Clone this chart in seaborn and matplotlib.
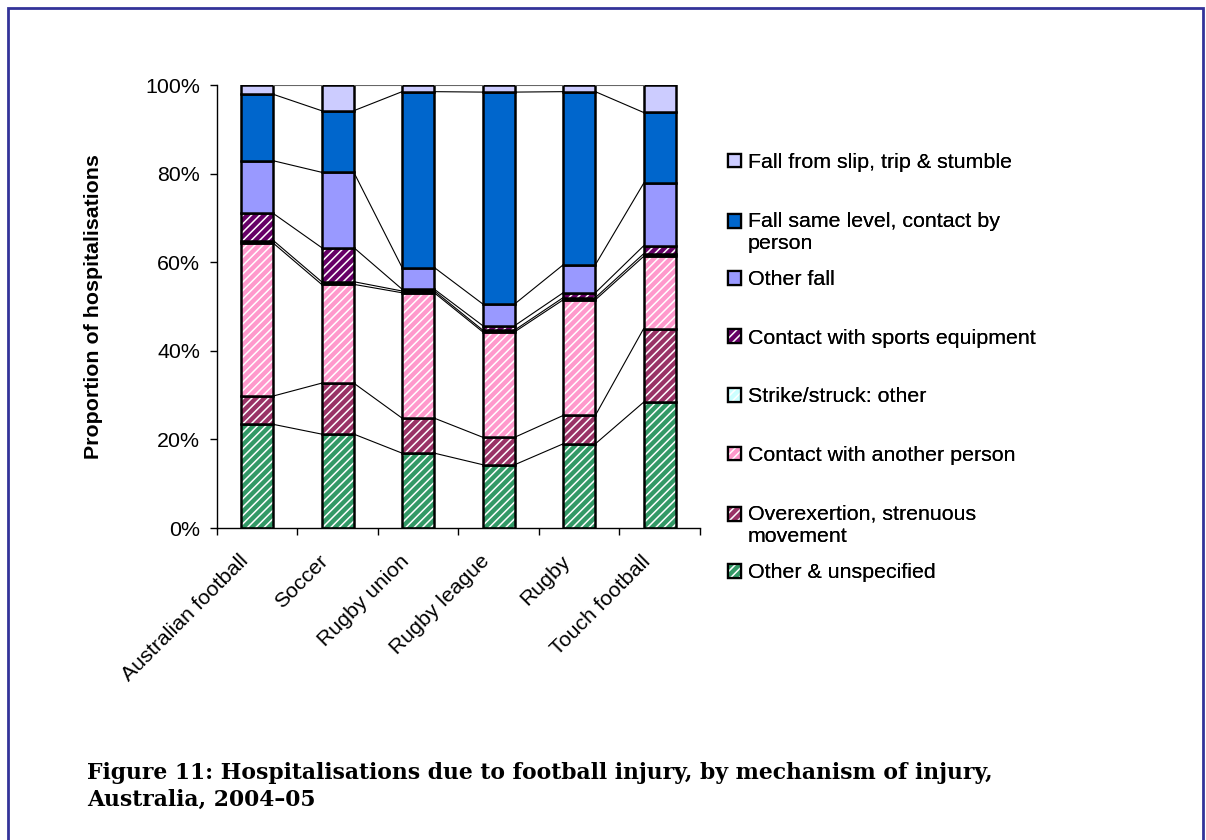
import numpy as np
import matplotlib
matplotlib.use('Agg')
import matplotlib.pyplot as plt
import matplotlib.patches as mpatches
from matplotlib.legend_handler import HandlerTuple, HandlerPatch
from matplotlib.ticker import FuncFormatter
from matplotlib.transforms import ScaledTranslation
import seaborn as sns

sns.set_style('white')
plt.rcParams['font.family'] = ['Liberation Sans', 'DejaVu Sans']
plt.rcParams['hatch.linewidth'] = 1.1
for k in ['text.color', 'axes.labelcolor', 'xtick.color', 'ytick.color']:
    plt.rcParams[k] = 'black'

sports = ['Australian football', 'Soccer', 'Rugby union', 'Rugby league', 'Rugby', 'Touch football']

# proportions (%), bottom of the stack first
other_unspec = [23.4, 21.2, 16.9, 14.3, 19.0, 28.4]
overexertion = [6.4, 11.5, 7.9, 6.2, 6.4, 16.6]
contact_person = [34.5, 22.3, 28.3, 23.8, 26.1, 16.3]
strike_other = [0.6, 0.6, 0.4, 0.4, 0.5, 0.6]
sports_equip = [6.1, 7.7, 0.4, 1.0, 1.1, 1.8]
other_fall = [11.9, 17.0, 4.9, 4.9, 6.3, 14.1]
fall_same_level = [15.0, 13.9, 39.7, 47.8, 39.1, 16.0]
fall_slip = [2.1, 5.8, 1.5, 1.6, 1.5, 6.2]

series_names = ['Other & unspecified', 'Overexertion, strenuous\nmovement', 'Contact with another person',
                'Strike/struck: other', 'Contact with sports equipment', 'Other fall',
                'Fall same level, contact by\nperson', 'Fall from slip, trip & stumble']
series_vals = [other_unspec, overexertion, contact_person, strike_other, sports_equip, other_fall,
               fall_same_level, fall_slip]
series_cols = ['#339966', '#993366', '#FF99CC', '#CCFFFF', '#660066', '#9999FF', '#0066CC', '#CCCCFF']
series_hatch = ['////', '////', '////', '////', '////', None, None, None]

FS = 15.4

fig = plt.figure(figsize=(12.06, 8.4), dpi=100)
ax = fig.add_axes([0.1799, 0.3714, 0.4005, 0.5274])

bottom = np.zeros(len(sports))
levels = []
for vals, col, hat in zip(series_vals, series_cols, series_hatch):
    vals = np.array(vals)
    if hat:
        sns.barplot(x=sports, y=vals, order=sports, bottom=bottom, width=0.4, errorbar=None, ax=ax,
                    color=col, saturation=1, edgecolor='white', hatch=hat, linewidth=0)
    else:
        sns.barplot(x=sports, y=vals, order=sports, bottom=bottom, width=0.4, errorbar=None, ax=ax,
                    color=col, saturation=1, linewidth=0)
    sns.barplot(x=sports, y=vals, order=sports, bottom=bottom, width=0.4, errorbar=None, ax=ax,
                color='black', fill=False, edgecolor='black', linewidth=1.8)
    bottom = bottom + vals
    levels.append(bottom.copy())

# series lines between neighbouring bars
for n, lev in enumerate(levels):
    lc = '#666666' if n == len(levels) - 1 else 'black'
    for i in range(len(sports) - 1):
        ax.plot([i + 0.2, i + 0.8], [lev[i], lev[i + 1]], color=lc, lw=0.8, zorder=1)

ax.set_xlim(-0.5, len(sports) - 0.5)
ax.set_ylim(0, 100)
ax.set_yticks([0, 20, 40, 60, 80, 100])
ax.yaxis.set_major_formatter(FuncFormatter(lambda v, p: f'{v:.0f}%'))
ax.tick_params(axis='y', which='major', direction='out', length=5, width=1, labelsize=FS, pad=7, left=True)
ax.set_xticks(np.arange(len(sports)))
ax.set_xticks(np.arange(len(sports) + 1) - 0.5, minor=True)
ax.tick_params(axis='x', which='major', length=0, pad=17, labelsize=FS)
ax.tick_params(axis='x', which='minor', direction='out', length=5, width=1, bottom=True)
ax.set_xticklabels(sports, rotation=45, ha='right', rotation_mode='anchor', va='top')
shift = ScaledTranslation(-19 / 100, 0, fig.dpi_scale_trans)
for lbl in ax.get_xticklabels():
    lbl.set_transform(lbl.get_transform() + shift)
ax.set_xlabel('')
for s in ['top', 'right']:
    ax.spines[s].set_visible(False)
for s in ['left', 'bottom']:
    ax.spines[s].set_color('black')
    ax.spines[s].set_linewidth(1)

ax.set_ylabel('Proportion of hospitalisations', fontsize=FS, fontweight='bold')
ax.yaxis.set_label_coords(-0.236, 0.5)


def swatch_first_line(legend, orig_handle, xdescent, ydescent, width, height, fontsize):
    # two-line labels: keep the swatch level with the first line
    return mpatches.Rectangle((-xdescent, -ydescent + 0.51 * fontsize), width, height)


# legend, one evenly spaced entry per series (top of stack first)
leg_top = 1 - 153 / 840
leg_step = 58.6 / 840
for k, idx in enumerate(range(len(series_names) - 1, -1, -1)):
    col, hat = series_cols[idx], series_hatch[idx]
    face = mpatches.Patch(facecolor=col, edgecolor='white' if hat else col, hatch=hat, linewidth=0)
    edge = mpatches.Patch(facecolor='none', edgecolor='black', linewidth=1.6)
    hmap = {tuple: HandlerTuple(ndivide=1, pad=0)}
    if '\n' in series_names[idx]:
        hmap[mpatches.Patch] = HandlerPatch(patch_func=swatch_first_line)
    leg = fig.legend([(face, edge)], [series_names[idx]], loc='upper left',
                     bbox_to_anchor=(0.6036, leg_top - k * leg_step),
                     frameon=False, fontsize=FS, handlelength=0.62, handleheight=0.62, handletextpad=0.3,
                     borderaxespad=0, borderpad=0, handler_map=hmap)
    fig.add_artist(leg)

fig.text(87 / 1206, 1 - 762 / 840,
         'Figure 11: Hospitalisations due to football injury, by mechanism of injury,\nAustralia, 2004\u201305',
         family=['DejaVu Serif'], fontweight='bold', fontsize=15.75, va='top', ha='left',
         linespacing=1.28)

fig.add_artist(mpatches.Rectangle((8 / 1206, -0.1), 1195 / 1206, 1.1 - 8 / 840, fill=False,
                                  edgecolor='#333399', linewidth=2, transform=fig.transFigure))

fig.savefig('out.png', dpi=100)
